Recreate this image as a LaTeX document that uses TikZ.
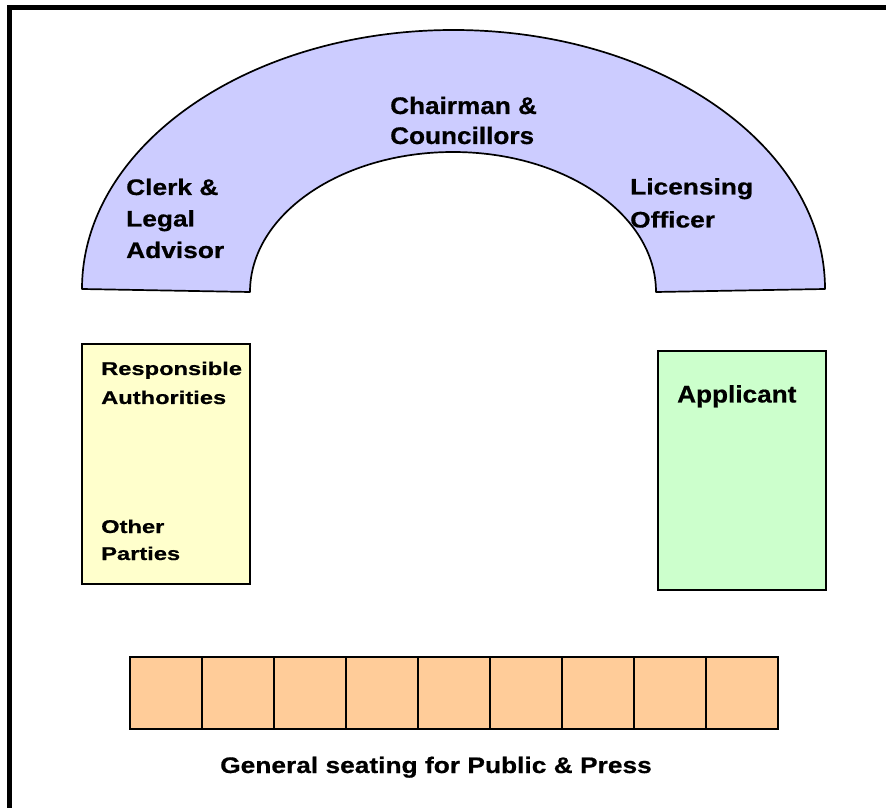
\documentclass[tikz,border=0pt]{standalone}
\usepackage{fontspec}
\newfontfamily\lblA[FakeStretch=1.17,FakeBold=0.6]{Liberation Sans Bold}
\newfontfamily\lblB[FakeStretch=1.09,FakeBold=0.6]{Liberation Sans Bold}
\newfontfamily\lblC[FakeStretch=1.28,FakeBold=0.6]{Liberation Sans Bold}
\definecolor{archblue}{HTML}{CCCCFF}
\definecolor{boxyellow}{HTML}{FFFFCC}
\definecolor{boxgreen}{HTML}{CCFFCC}
\definecolor{seatorange}{HTML}{FFCC99}
\tikzset{
  lblA/.style={anchor=base west,inner sep=0pt,font=\lblA\fontsize{22.5}{27}\selectfont},
  lblB/.style={anchor=base west,inner sep=0pt,font=\lblB\fontsize{24}{29}\selectfont},
  lblC/.style={anchor=base west,inner sep=0pt,font=\lblC\fontsize{18.5}{22}\selectfont},
  outline/.style={draw=black,line width=1.7pt},
  seat/.style={outline,fill=seatorange,minimum width=72pt,minimum height=72pt,inner sep=0pt,anchor=south west},
  frameline/.style={line width=5.5pt,draw=black}
}
\begin{document}
\begin{tikzpicture}[x=1pt,y=1pt]
\useasboundingbox (0,0) rectangle (886,807);
\fill[white] (0,0) rectangle (886,807);
% outer frame (left and top visible)
\draw[frameline] (9.5,-10) -- (9.5,799.5) -- (900,799.5);
% arch
\draw[outline,fill=archblue,line join=round]
  (82,518) arc[start angle=180,end angle=0,x radius=371.5,y radius=259]
  -- (656,515) arc[start angle=0,end angle=180,x radius=203,y radius=140]
  -- cycle;
% side boxes
\node[outline,fill=boxyellow,minimum width=168pt,minimum height=240pt,inner sep=0pt,anchor=south west] (parties) at (81,222) {};
\node[outline,fill=boxgreen,minimum width=168pt,minimum height=239pt,inner sep=0pt,anchor=south west] (applicantbox) at (657,216) {};
% seats
\foreach \i in {0,...,8}{
  \node[seat] (seat\i) at (129+72*\i,77) {};
}
% arch labels
\node[lblA] (clerk1) at (126,612) {Clerk \&};
\node[lblA] (clerk2) at (126,580.5) {Legal};
\node[lblA] (clerk3) at (126,549) {Advisor};
\node[lblB] (chair1) at (390,693) {Chairman \&};
\node[lblB] (chair2) at (390,663) {Councillors};
\node[lblA] (lic1) at (630,612.5) {Licensing};
\node[lblA] (lic2) at (630,579.5) {Officer};
% box labels
\node[lblC] (resp1) at (101,432) {Responsible};
\node[lblC] (resp2) at (101,403) {Authorities};
\node[lblC] (other1) at (101,274) {Other};
\node[lblC] (other2) at (101,247) {Parties};
\node[lblB] (appl) at (677,404.5) {Applicant};
% seating label
\node[lblA] (general) at (220,34) {General seating for Public \& Press};
\end{tikzpicture}
\end{document}
